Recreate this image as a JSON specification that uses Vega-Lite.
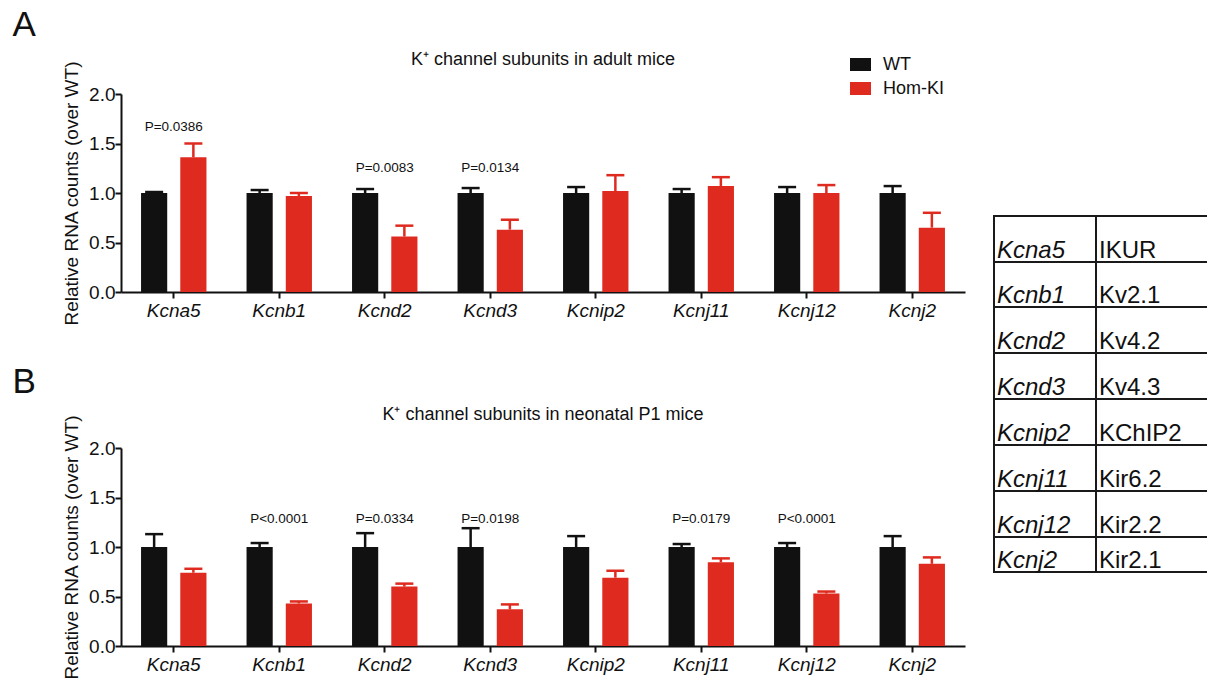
{
  "$schema": "https://vega.github.io/schema/vega-lite/v6.json",
  "padding": {"left": 12, "top": 8, "right": 0, "bottom": 0},
  "background": "white",
  "config": {
    "font": "Liberation Sans",
    "view": {"stroke": null},
    "axis": {"grid": false, "domainColor": "#111111", "domainWidth": 2, "tickColor": "#111111", "tickWidth": 2, "tickSize": 6, "labelColor": "#111111", "labelFont": "Liberation Sans", "titleFont": "Liberation Sans", "titleColor": "#111111", "titleFontWeight": "normal"},
    "title": {"font": "Liberation Sans", "fontWeight": "normal", "color": "#111111"},
    "legend": {"labelFont": "Liberation Sans", "labelColor": "#111111"}
  },
  "datasets": {
    "adult": [
      {"gene": "Kcna5", "group": "WT", "mean": 1.0, "err": 1.01},
      {"gene": "Kcna5", "group": "Hom-KI", "mean": 1.36, "err": 1.5},
      {"gene": "Kcnb1", "group": "WT", "mean": 1.0, "err": 1.03},
      {"gene": "Kcnb1", "group": "Hom-KI", "mean": 0.97, "err": 1.0},
      {"gene": "Kcnd2", "group": "WT", "mean": 1.0, "err": 1.04},
      {"gene": "Kcnd2", "group": "Hom-KI", "mean": 0.56, "err": 0.67},
      {"gene": "Kcnd3", "group": "WT", "mean": 1.0, "err": 1.05},
      {"gene": "Kcnd3", "group": "Hom-KI", "mean": 0.63, "err": 0.73},
      {"gene": "Kcnip2", "group": "WT", "mean": 1.0, "err": 1.06},
      {"gene": "Kcnip2", "group": "Hom-KI", "mean": 1.02, "err": 1.18},
      {"gene": "Kcnj11", "group": "WT", "mean": 1.0, "err": 1.04},
      {"gene": "Kcnj11", "group": "Hom-KI", "mean": 1.07, "err": 1.16},
      {"gene": "Kcnj12", "group": "WT", "mean": 1.0, "err": 1.06},
      {"gene": "Kcnj12", "group": "Hom-KI", "mean": 1.0, "err": 1.08},
      {"gene": "Kcnj2", "group": "WT", "mean": 1.0, "err": 1.07},
      {"gene": "Kcnj2", "group": "Hom-KI", "mean": 0.65, "err": 0.8}
    ],
    "neo": [
      {"gene": "Kcna5", "group": "WT", "mean": 1.0, "err": 1.13},
      {"gene": "Kcna5", "group": "Hom-KI", "mean": 0.74, "err": 0.78},
      {"gene": "Kcnb1", "group": "WT", "mean": 1.0, "err": 1.04},
      {"gene": "Kcnb1", "group": "Hom-KI", "mean": 0.43, "err": 0.45},
      {"gene": "Kcnd2", "group": "WT", "mean": 1.0, "err": 1.14},
      {"gene": "Kcnd2", "group": "Hom-KI", "mean": 0.6, "err": 0.63},
      {"gene": "Kcnd3", "group": "WT", "mean": 1.0, "err": 1.19},
      {"gene": "Kcnd3", "group": "Hom-KI", "mean": 0.37, "err": 0.42},
      {"gene": "Kcnip2", "group": "WT", "mean": 1.0, "err": 1.11},
      {"gene": "Kcnip2", "group": "Hom-KI", "mean": 0.69, "err": 0.76},
      {"gene": "Kcnj11", "group": "WT", "mean": 1.0, "err": 1.03},
      {"gene": "Kcnj11", "group": "Hom-KI", "mean": 0.845, "err": 0.885},
      {"gene": "Kcnj12", "group": "WT", "mean": 1.0, "err": 1.04},
      {"gene": "Kcnj12", "group": "Hom-KI", "mean": 0.53, "err": 0.55},
      {"gene": "Kcnj2", "group": "WT", "mean": 1.0, "err": 1.11},
      {"gene": "Kcnj2", "group": "Hom-KI", "mean": 0.83, "err": 0.895}
    ],
    "padult": [
      {"gene": "Kcna5", "p": "P=0.0386", "py": 1.67},
      {"gene": "Kcnd2", "p": "P=0.0083", "py": 1.255},
      {"gene": "Kcnd3", "p": "P=0.0134", "py": 1.255}
    ],
    "pneo": [
      {"gene": "Kcnb1", "p": "P<0.0001", "py": 1.284},
      {"gene": "Kcnd2", "p": "P=0.0334", "py": 1.284},
      {"gene": "Kcnd3", "p": "P=0.0198", "py": 1.284},
      {"gene": "Kcnj11", "p": "P=0.0179", "py": 1.284},
      {"gene": "Kcnj12", "p": "P<0.0001", "py": 1.284}
    ],
    "table": [
      {"gene": "Kcna5", "channel": "IKUR", "top": 0, "bottom": 1},
      {"gene": "Kcnb1", "channel": "Kv2.1", "top": 1, "bottom": 1.978},
      {"gene": "Kcnd2", "channel": "Kv4.2", "top": 1.978, "bottom": 2.978},
      {"gene": "Kcnd3", "channel": "Kv4.3", "top": 2.978, "bottom": 3.978},
      {"gene": "Kcnip2", "channel": "KChIP2", "top": 3.978, "bottom": 4.978},
      {"gene": "Kcnj11", "channel": "Kir6.2", "top": 4.978, "bottom": 5.978},
      {"gene": "Kcnj12", "channel": "Kir2.2", "top": 5.978, "bottom": 6.978},
      {"gene": "Kcnj2", "channel": "Kir2.1", "top": 6.978, "bottom": 7.739}
    ]
  },
  "hconcat": [
    {
      "vconcat": [
        {
          "title": {"text": "A", "anchor": "start", "fontSize": 35, "dx": -50, "offset": 8},
          "resolve": {"scale": {"color": "independent"}, "legend": {"color": "independent"}},
          "vconcat": [
            {
              "title": {"text": "K⁺ channel subunits in adult mice", "fontSize": 18, "offset": -15},
              "width": 844,
              "height": 198,
              "data": {"name": "adult"},
              "encoding": {
                "x": {"field": "gene", "type": "nominal", "sort": ["Kcna5", "Kcnb1", "Kcnd2", "Kcnd3", "Kcnip2", "Kcnj11", "Kcnj12", "Kcnj2"], "scale": {"paddingInner": 0.38, "paddingOuter": 0.19}, "axis": {"title": null, "labelAngle": 0, "labelFontStyle": "italic", "labelFontSize": 19, "labelPadding": 3}}
              },
              "layer": [
                {
                  "mark": {"type": "bar"},
                  "encoding": {
                    "xOffset": {"field": "group", "type": "nominal", "sort": ["WT", "Hom-KI"], "scale": {"paddingInner": 0.333, "paddingOuter": 0}},
                    "y": {"field": "mean", "type": "quantitative", "title": "Relative RNA counts (over WT)", "scale": {"domain": [0, 2], "nice": false}, "axis": {"values": [0, 0.5, 1, 1.5, 2], "format": ".1f", "labelFontSize": 19, "titleFontSize": 19, "titlePadding": 7, "labelPadding": 0}},
                    "color": {"field": "group", "type": "nominal", "scale": {"domain": ["WT", "Hom-KI"], "range": ["#111111", "#DF2B1F"]}, "legend": {"title": null, "orient": "none", "legendX": 729, "legendY": -40, "symbolType": "M-1,-0.62H1V0.62H-1Z", "symbolSize": 441, "labelFontSize": 18, "labelOffset": 12, "rowPadding": 4, "symbolStrokeWidth": 0, "symbolOpacity": 1}}
                  }
                },
                {
                  "mark": {"type": "rule", "strokeWidth": 2.5, "opacity": 1},
                  "encoding": {
                    "xOffset": {"field": "group", "type": "nominal", "sort": ["WT", "Hom-KI"]},
                    "y": {"field": "mean", "type": "quantitative", "title": "Relative RNA counts (over WT)"},
                    "y2": {"field": "err"},
                    "color": {"field": "group", "type": "nominal"}
                  }
                },
                {
                  "mark": {"type": "tick", "size": 18, "thickness": 2.5, "opacity": 1},
                  "encoding": {
                    "xOffset": {"field": "group", "type": "nominal", "sort": ["WT", "Hom-KI"]},
                    "y": {"field": "err", "type": "quantitative", "title": "Relative RNA counts (over WT)"},
                    "color": {"field": "group", "type": "nominal"}
                  }
                },
                {
                  "data": {"name": "padult"},
                  "mark": {"type": "text", "fontSize": 13.5, "baseline": "middle", "color": "#111111"},
                  "encoding": {
                    "y": {"field": "py", "type": "quantitative", "title": "Relative RNA counts (over WT)"},
                    "text": {"field": "p"}
                  }
                }
              ]
            }
          ]
        },
        {
          "title": {"text": "B", "anchor": "start", "fontSize": 35, "dx": -50, "offset": 6},
          "resolve": {"scale": {"color": "independent"}, "legend": {"color": "independent"}},
          "vconcat": [
            {
              "title": {"text": "K⁺ channel subunits in neonatal P1 mice", "fontSize": 18, "offset": -10},
              "width": 844,
              "height": 198,
              "data": {"name": "neo"},
              "encoding": {
                "x": {"field": "gene", "type": "nominal", "sort": ["Kcna5", "Kcnb1", "Kcnd2", "Kcnd3", "Kcnip2", "Kcnj11", "Kcnj12", "Kcnj2"], "scale": {"paddingInner": 0.38, "paddingOuter": 0.19}, "axis": {"title": null, "labelAngle": 0, "labelFontStyle": "italic", "labelFontSize": 19, "labelPadding": 3}}
              },
              "layer": [
                {
                  "mark": {"type": "bar"},
                  "encoding": {
                    "xOffset": {"field": "group", "type": "nominal", "sort": ["WT", "Hom-KI"], "scale": {"paddingInner": 0.333, "paddingOuter": 0}},
                    "y": {"field": "mean", "type": "quantitative", "title": "Relative RNA counts (over WT)", "scale": {"domain": [0, 2], "nice": false}, "axis": {"values": [0, 0.5, 1, 1.5, 2], "format": ".1f", "labelFontSize": 19, "titleFontSize": 19, "titlePadding": 7, "labelPadding": 0}},
                    "color": {"field": "group", "type": "nominal", "scale": {"domain": ["WT", "Hom-KI"], "range": ["#111111", "#DF2B1F"]}, "legend": null}
                  }
                },
                {
                  "mark": {"type": "rule", "strokeWidth": 2.5, "opacity": 1},
                  "encoding": {
                    "xOffset": {"field": "group", "type": "nominal", "sort": ["WT", "Hom-KI"]},
                    "y": {"field": "mean", "type": "quantitative", "title": "Relative RNA counts (over WT)"},
                    "y2": {"field": "err"},
                    "color": {"field": "group", "type": "nominal", "legend": null}
                  }
                },
                {
                  "mark": {"type": "tick", "size": 18, "thickness": 2.5, "opacity": 1},
                  "encoding": {
                    "xOffset": {"field": "group", "type": "nominal", "sort": ["WT", "Hom-KI"]},
                    "y": {"field": "err", "type": "quantitative", "title": "Relative RNA counts (over WT)"},
                    "color": {"field": "group", "type": "nominal", "legend": null}
                  }
                },
                {
                  "data": {"name": "pneo"},
                  "mark": {"type": "text", "fontSize": 13.5, "baseline": "middle", "color": "#111111"},
                  "encoding": {
                    "y": {"field": "py", "type": "quantitative", "title": "Relative RNA counts (over WT)"},
                    "text": {"field": "p"}
                  }
                }
              ]
            }
          ]
        }
      ],
      "spacing": 39,
      "resolve": {"scale": {"color": "independent"}, "legend": {"color": "independent"}}
    },
    {
      "width": 213,
      "height": 560,
      "data": {"name": "table"},
      "layer": [
        {
          "mark": {"type": "rect", "fill": "white", "stroke": "#1a1a1a", "strokeWidth": 2},
          "encoding": {
            "x": {"datum": 0, "type": "quantitative", "scale": {"domain": [0, 2.088], "nice": false, "zero": false}, "axis": null},
            "x2": {"datum": 1},
            "y": {"field": "top", "type": "quantitative", "scale": {"domain": [-2.652, 9.522], "nice": false, "zero": false, "reverse": true}, "axis": null},
            "y2": {"field": "bottom"}
          }
        },
        {
          "mark": {"type": "rect", "fill": "white", "stroke": "#1a1a1a", "strokeWidth": 2, "clip": true},
          "encoding": {
            "x": {"datum": 1, "type": "quantitative"},
            "x2": {"datum": 3},
            "y": {"field": "top", "type": "quantitative"},
            "y2": {"field": "bottom"}
          }
        },
        {
          "mark": {"type": "text", "align": "left", "baseline": "alphabetic", "dx": 3, "dy": -4, "fontSize": 24, "fontStyle": "italic", "color": "#111111"},
          "encoding": {
            "x": {"datum": 0, "type": "quantitative"},
            "y": {"field": "bottom", "type": "quantitative"},
            "text": {"field": "gene"}
          }
        },
        {
          "mark": {"type": "text", "align": "left", "baseline": "alphabetic", "dx": 3, "dy": -4, "fontSize": 24, "color": "#111111"},
          "encoding": {
            "x": {"datum": 1, "type": "quantitative"},
            "y": {"field": "bottom", "type": "quantitative"},
            "text": {"field": "channel"}
          }
        }
      ]
    }
  ],
  "spacing": 28,
  "resolve": {"scale": {"color": "independent"}, "legend": {"color": "independent"}}
}
